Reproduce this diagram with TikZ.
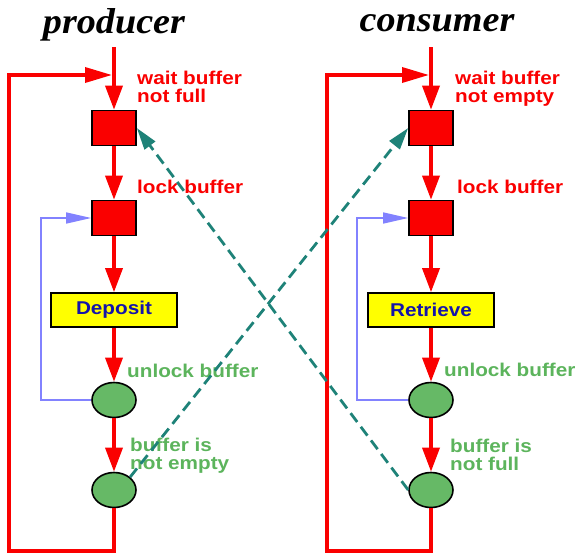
\documentclass[tikz,border=0pt]{standalone}
\usepackage{fontspec}
\setmainfont{Liberation Sans}
\newfontfamily\labfont[FakeStretch=1.12]{Liberation Sans}
\newfontfamily\titfont[FakeStretch=1.06]{Liberation Serif}
\usetikzlibrary{arrows.meta,shapes.geometric}
\definecolor{pred}{RGB}{250,0,0}
\definecolor{pgreen}{RGB}{102,185,102}
\definecolor{lgreen}{RGB}{92,180,92}
\definecolor{pteal}{RGB}{30,130,120}
\definecolor{pblue}{RGB}{130,130,255}
\definecolor{pyellow}{RGB}{255,255,0}
\definecolor{dblue}{RGB}{20,20,170}
\tikzset{
  title/.style={font=\titfont\bfseries\itshape\fontsize{36}{36}\selectfont,inner sep=0pt},
  sq/.style={rectangle,draw=black,fill=pred,line width=1.6pt,minimum width=44pt,minimum height=35pt,inner sep=0pt},
  act/.style={rectangle,draw=black,fill=pyellow,line width=1.6pt,minimum width=126pt,minimum height=34pt,inner sep=0pt,
     font=\labfont\bfseries\fontsize{18.5}{17}\selectfont,text=dblue},
  circ/.style={ellipse,draw=black,fill=pgreen,line width=1.6pt,minimum width=44pt,minimum height=35pt,inner sep=0pt},
  rlab/.style={font=\labfont\bfseries\fontsize{18.5}{17.5}\selectfont,text=pred,align=left,inner sep=0pt},
  glab/.style={font=\labfont\bfseries\fontsize{18.5}{17.5}\selectfont,text=lgreen,align=left,inner sep=0pt},
  flow/.style={draw=pred,line width=3.5pt,-{Triangle[length=24pt,width=17pt]}},
  redline/.style={draw=pred,line width=3.5pt},
  hflow/.style={draw=pred,line width=3.5pt,-{Triangle[length=27pt,width=15pt]}},
  bflow/.style={draw=pblue,line width=1.4pt,-{Triangle[length=25pt,width=11pt]}},
  sig/.style={draw=pteal,line width=2.8pt,dash pattern=on 11pt off 6pt,-{Triangle[length=22pt,width=13pt]}}
}
\begin{document}
\begin{tikzpicture}[x=1pt,y=-1pt]
\useasboundingbox (0,0) rectangle (579,554);
% ---------- producer ----------
\node[title,anchor=base] (ptitle) at (114,33) {producer};
\coordinate (ptop) at (114,47);
\node[sq] (ps1) at (114,128) {};
\node[sq] (ps2) at (114,218) {};
\node[act] (pdep) at (114,310) {Deposit};
\node[circ] (pe1) at (114,400) {};
\node[circ] (pe2) at (114,490) {};
\coordinate (pbr) at (114,551);
\coordinate (pbl) at (9,551);
\coordinate (ptl) at (9,75);
\coordinate (pjoin) at (112,75);
\coordinate (pbl1) at (41,400);
\coordinate (pbl2) at (41,218);
\node[rlab,anchor=north west] (pl1) at (137,71) {wait buffer\\not full};
\node[rlab,anchor=base west] (pl2) at (137,193) {lock buffer};
\node[glab,anchor=base west] (pl3) at (127,377) {unlock buffer};
\node[glab,anchor=north west] (pl4) at (130,438) {buffer is\\not empty};
% ---------- consumer ----------
\node[title,anchor=base] (ctitle) at (437,31) {consumer};
\coordinate (ctop) at (431,47);
\node[sq] (cs1) at (431,128) {};
\node[sq] (cs2) at (431,218) {};
\node[act] (cret) at (431,310) {Retrieve};
\node[circ] (ce1) at (431,400) {};
\node[circ] (ce2) at (431,490) {};
\coordinate (cbr) at (431,551);
\coordinate (cbl) at (327,551);
\coordinate (ctl) at (327,75);
\coordinate (cjoin) at (429,75);
\coordinate (cbl1) at (357,400);
\coordinate (cbl2) at (357,218);
\node[rlab,anchor=north west] (cl1) at (455,71) {wait buffer\\not empty};
\node[rlab,anchor=base west] (cl2) at (457,193) {lock buffer};
\node[glab,anchor=base west] (cl3) at (444,376) {unlock buffer};
\node[glab,anchor=north west] (cl4) at (450,439) {buffer is\\not full};
% ---------- producer flow ----------
\draw[flow] (ptop) -- (ps1.north);
\draw[flow] (ps1.south) -- (ps2.north);
\draw[flow] (ps2.south) -- (pdep.north);
\draw[flow] (pdep.south) -- (pe1.north);
\draw[flow] (pe1.south) -- (pe2.north);
\draw[redline] (pe2.south) -- (pbr) -- (pbl) -- (ptl);
\draw[hflow] ([xshift=-1.75pt]ptl) -- (pjoin);
\draw[bflow] (pe1.west) -- (pbl1) -- (pbl2) -- (ps2.west);
% ---------- consumer flow ----------
\draw[flow] (ctop) -- (cs1.north);
\draw[flow] (cs1.south) -- (cs2.north);
\draw[flow] (cs2.south) -- (cret.north);
\draw[flow] (cret.south) -- (ce1.north);
\draw[flow] (ce1.south) -- (ce2.north);
\draw[redline] (ce2.south) -- (cbr) -- (cbl) -- (ctl);
\draw[hflow] ([xshift=-1.75pt]ctl) -- (cjoin);
\draw[bflow] (ce1.west) -- (cbl1) -- (cbl2) -- (cs2.west);
% ---------- signals ----------
\draw[sig] (ce2.west) -- (ps1.east);
\draw[sig] (pe2.north east) -- (cs1.west);
\end{tikzpicture}
\end{document}
